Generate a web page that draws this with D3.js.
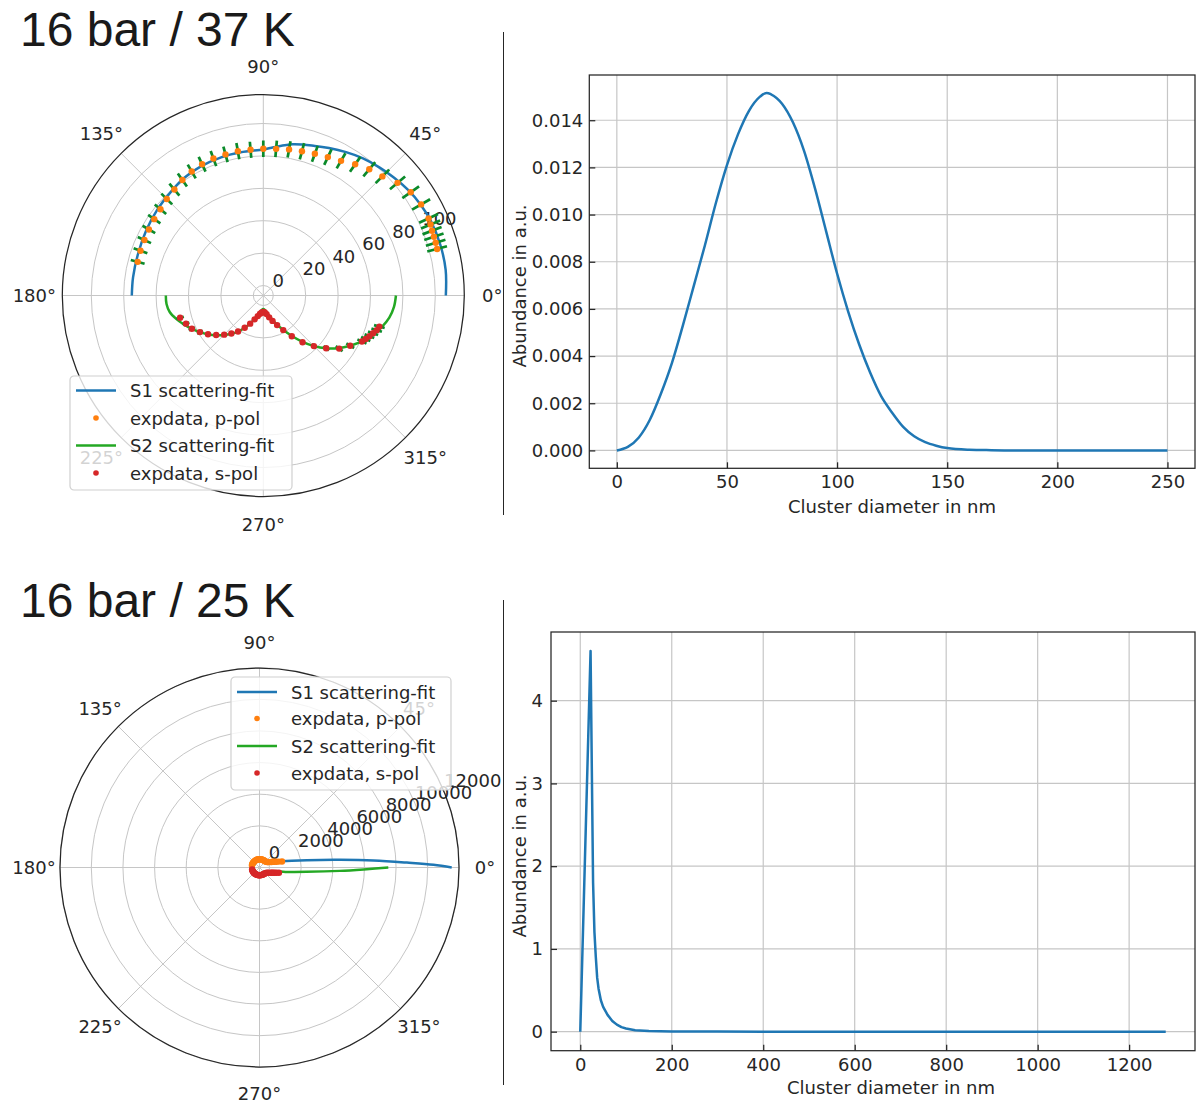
<!DOCTYPE html>
<html><head><meta charset="utf-8">
<script src="https://cdn.jsdelivr.net/npm/d3@7"></script>
<style>body{margin:0;background:#fff}</style>
</head><body><svg id="c" width="1198" height="1101" style="font-family:'DejaVu Sans',sans-serif"></svg>
<script>
// ---------------- DATA ----------------
const titles = ["16 bar / 37 K", "16 bar / 25 K"];
const legendLabels = ["S1 scattering-fit", "expdata, p-pol", "S2 scattering-fit", "expdata, s-pol"];
const angleTicks = [0, 45, 90, 135, 180, 225, 270, 315];

// top polar (37 K)
const rTicksTop = [0, 20, 40, 60, 80, 100];
const s1AngTop = [0, 8, 16, 24, 30, 36, 42, 48, 54, 60, 66, 71, 79, 86, 90, 99, 107, 116, 124, 132, 141, 151, 162, 172, 180];
const s1ValTop = [106.5, 107.5, 107.5, 107, 106, 104.5, 102.5, 100.5, 98.5, 96, 93.5, 91.5, 88.9, 85.5, 84, 83.3, 83, 82.3, 81.3, 79.5, 78, 76.5, 75.3, 75, 75];
const s2AngTop = [180, 185, 190, 195, 200, 205, 210, 215, 220, 225, 230, 235, 240, 245, 250, 255, 260, 265, 270, 275, 280, 285, 290, 295, 300, 305, 310, 315, 320, 325, 330, 335, 340, 345, 350, 355, 360];
const s2ValTop = [54, 53.8, 52.5, 49.5, 46, 42.5, 39, 35.5, 32, 28.3, 24.7, 21, 16.8, 12.8, 9.2, 6.3, 4, 2.6, 2.2, 2.6, 4, 6.3, 9.4, 13.5, 18.3, 24.2, 31, 38, 44.5, 50.5, 55.8, 61, 65.5, 69.5, 72.8, 74.8, 75.7];
const pAng = [15, 17, 19, 21, 23, 25, 30, 35, 40, 45, 50, 55, 60, 65, 70, 75, 80, 85, 90, 95, 100, 105, 110, 115, 120, 125, 130, 135, 140, 145, 150, 155, 160, 165];
const pValTop = [104.9, 105.1, 105.2, 105.4, 106, 106.4, 106.3, 104.9, 102, 97.8, 95.6, 92.7, 89.8, 88.1, 86.9, 86, 85.4, 84.7, 84.4, 84.1, 84.3, 84, 83.8, 83.2, 82.2, 80.9, 79.2, 78.1, 76.7, 76, 75.4, 74.8, 74.5, 74.1];
const pErrTop = [6.3, 6.3, 6.3, 6.3, 6.4, 6.4, 6.4, 6.3, 6.1, 5.9, 5.7, 5.6, 5.4, 5.3, 5.2, 5.2, 5.1, 5.1, 5.1, 5.0, 5.1, 5.0, 5.0, 5.0, 4.9, 4.9, 4.8, 4.7, 4.6, 4.6, 4.5, 4.5, 4.5, 4.4];
const sAng = [345, 343, 341, 339, 337, 335, 330, 325, 320, 315, 310, 305, 300, 295, 290, 285, 280, 275, 270, 265, 260, 255, 250, 245, 240, 235, 230, 225, 220, 215, 210, 205, 200, 195];
const sValTop = [68, 67, 65.5, 64, 62.5, 61, 55.8, 51, 44.5, 38, 31.5, 24.5, 18.5, 14, 10.5, 7.8, 5.5, 4.4, 4, 4.4, 5.3, 7, 9.5, 13, 16.8, 21, 24.5, 28, 31.8, 35.5, 39, 42.5, 44.6, 47];
const sErrTop = [3.4, 3.4, 3.3, 3.2, 3.1, 3.1, 2.8, 2.6, 2.2, 1.9, 1.6, 1.2, 0.9, 0.7, 0.5, 0.4, 0.3, 0.2, 0.2, 0.2, 0.3, 0.4, 0.5, 0.7, 0.8, 1.1, 1.2, 1.4, 1.6, 1.8, 2.0, 2.1, 2.2, 2.4];

// bottom polar (25 K)
const rTicksBot = [0, 2000, 4000, 6000, 8000, 10000, 12000];
const s1AngBot = [0, 0.9, 1.9, 3.5, 5.4, 8.8, 12, 15.7, 20, 25, 30, 40, 60, 90, 120, 150, 180];
const s1ValBot = [11520, 10370, 8690, 6590, 4490, 2400, 1450, 840, 420, 190, 30, -70, -100, -110, -110, -120, -120];
const s2AngBot = [360, 359.1, 357.6, 354.7, 351, 348.6, 345, 340, 335, 330, 320, 300, 270, 240, 210, 180];
const s2ValBot = [7510, 6140, 4460, 2360, 1150, 645, 420, 200, 90, 20, -90, -130, -140, -140, -130, -120];
const pValBot = [840, 640, 490, 380, 290, 200, 40, -40, -80, -95, -100, -105, -105, -108, -110, -110, -108, -105, -105, -108, -110, -112, -115, -118, -120, -122, -125, -128, -130, -132, -134, -136, -138, -140];
const pErrBot = [50, 45, 40, 40, 35, 35, 30, 30, 30, 30, 30, 30, 30, 30, 30, 30, 30, 30, 30, 30, 30, 30, 30, 30, 30, 30, 30, 30, 30, 30, 30, 30, 30, 30];
const sValBot = [640, 490, 380, 290, 220, 160, 30, -50, -95, -120, -130, -135, -140, -140, -142, -144, -145, -146, -146, -146, -147, -147, -148, -148, -148, -149, -149, -150, -150, -150, -150, -150, -150, -150];
const sErrBot = [45, 40, 35, 35, 30, 30, 30, 30, 30, 30, 30, 30, 30, 30, 30, 30, 30, 30, 30, 30, 30, 30, 30, 30, 30, 30, 30, 30, 30, 30, 30, 30, 30, 30];

// size distributions
const diamTop = [0, 5, 10, 15, 20, 25, 30, 35, 40, 45, 50, 55, 60, 65, 68, 70, 75, 80, 85, 90, 95, 100, 105, 110, 115, 120, 125, 130, 135, 140, 145, 150, 160, 170, 180, 200, 225, 250];
const abundTop = [0, 0.00015, 0.00055, 0.0013, 0.0024, 0.0037, 0.0053, 0.0070, 0.0087, 0.0105, 0.0121, 0.0134, 0.0144, 0.0150, 0.01516, 0.0151, 0.0147, 0.0139, 0.0127, 0.0111, 0.0093, 0.0075, 0.0059, 0.0045, 0.0033, 0.0023, 0.0016, 0.0010, 0.0006, 0.00035, 0.0002, 0.0001, 0.00003, 0.00001, 0, 0, 0, 0];
const xTicksTop = [0, 50, 100, 150, 200, 250];
const yTicksTop = [0, 0.002, 0.004, 0.006, 0.008, 0.010, 0.012, 0.014];
const diamBot = [0, 22.5, 25, 28, 31, 34, 37, 40, 45, 50, 60, 70, 80, 90, 100, 120, 150, 200, 300, 400, 600, 800, 1000, 1280];
const abundBot = [0, 4.6, 3.3, 1.8, 1.2, 0.9, 0.65, 0.52, 0.38, 0.3, 0.2, 0.13, 0.085, 0.055, 0.038, 0.018, 0.008, 0.003, 0.001, 0, 0, 0, 0, 0];
const xTicksBot = [0, 200, 400, 600, 800, 1000, 1200];
const yTicksBot = [0, 1, 2, 3, 4];
const xLabel = "Cluster diameter in nm";
const yLabel = "Abundance in a.u.";

// ---------------- STYLE ----------------
const C = {blue: "#1f77b4", orange: "#ff7f0e", green: "#24a824", red: "#d62728", err: "#0a8a2a",
  grid: "#c6c6c6", dark: "#262626"};
const svg = d3.select("#c");

function zip(a, b) { return a.map((d, i) => [d, b[i]]); }

function polarChart(o) {
  const g = svg.append("g").attr("transform", `translate(${o.cx},${o.cy})`);
  const r = d3.scaleLinear().domain(o.rDomain).range([0, o.R]);
  const a = d3.scaleLinear().domain([0, 360]).range([Math.PI / 2, Math.PI / 2 - 2 * Math.PI]);
  const px = (deg, v) => [r(v) * Math.sin(a(deg)), -r(v) * Math.cos(a(deg))];

  g.selectAll("circle.grid").data(o.rTicks).join("circle").attr("class", "grid")
    .attr("r", d => r(d)).attr("fill", "none").attr("stroke", C.grid).attr("stroke-width", 1);
  g.selectAll("line.spoke").data(angleTicks).join("line").attr("class", "spoke")
    .attr("x1", 0).attr("y1", 0)
    .attr("x2", d => px(d, o.rDomain[1])[0]).attr("y2", d => px(d, o.rDomain[1])[1])
    .attr("stroke", C.grid).attr("stroke-width", 1);
  g.append("circle").attr("r", o.R).attr("fill", "none").attr("stroke", C.dark).attr("stroke-width", 1.25);

  g.selectAll("text.alab").data(angleTicks).join("text").attr("class", "alab")
    .attr("x", d => (o.R + o.lab) * Math.sin(a(d))).attr("y", d => -(o.R + o.lab) * Math.cos(a(d)))
    .attr("text-anchor", "middle").attr("dominant-baseline", "central")
    .attr("font-size", 18).attr("fill", C.dark).text(d => d + "°");
  g.selectAll("text.rlab").data(o.rTicks).join("text").attr("class", "rlab")
    .attr("x", d => px(22.5, d)[0]).attr("y", d => px(22.5, d)[1] - 4.3)
    .attr("font-size", 18).attr("fill", C.dark).text(d => d);

  const line = d3.lineRadial().angle(d => a(d[0])).radius(d => r(d[1])).curve(d3.curveCatmullRom.alpha(0.5));
  function errs(ang, val, err) {
    const data = zip(ang, val).map((d, i) => [d[0], d[1], err[i]]);
    g.append("g").selectAll("line").data(data).join("line")
      .attr("x1", d => px(d[0], d[1] - d[2])[0]).attr("y1", d => px(d[0], d[1] - d[2])[1])
      .attr("x2", d => px(d[0], d[1] + d[2])[0]).attr("y2", d => px(d[0], d[1] + d[2])[1])
      .attr("stroke", C.err).attr("stroke-width", 2.7);
  }
  function dots(ang, val, col) {
    g.append("g").selectAll("circle").data(zip(ang, val)).join("circle")
      .attr("cx", d => px(d[0], d[1])[0]).attr("cy", d => px(d[0], d[1])[1])
      .attr("r", 3.2).attr("fill", col);
  }
  g.append("path").datum(zip(o.s1Ang, o.s1Val)).attr("d", line).attr("fill", "none").attr("stroke", C.blue).attr("stroke-width", 2.5);
  errs(pAng, o.pVal, o.pErr); dots(pAng, o.pVal, C.orange);
  g.append("path").datum(zip(o.s2Ang, o.s2Val)).attr("d", line).attr("fill", "none").attr("stroke", C.green).attr("stroke-width", 2.5);
  errs(sAng, o.sVal, o.sErr); dots(sAng, o.sVal, C.red);

  // legend (coordinates relative to the legend box)
  const L = o.legend;
  const lg = svg.append("g").attr("transform", `translate(${L.x},${L.y})`);
  lg.append("rect").attr("width", L.w).attr("height", L.h).attr("rx", 4)
    .attr("fill", "#fff").attr("fill-opacity", 0.8).attr("stroke", "#d0d0d0").attr("stroke-width", 1.2);
  const kinds = [["line", C.blue], ["dot", C.orange], ["line", C.green], ["dot", C.red]];
  kinds.forEach((k, i) => {
    const yy = L.rows[i];
    if (k[0] === "line") lg.append("line").attr("x1", 6).attr("x2", 46).attr("y1", yy).attr("y2", yy).attr("stroke", k[1]).attr("stroke-width", 2.5);
    else lg.append("circle").attr("cx", 26).attr("cy", yy).attr("r", 2.8).attr("fill", k[1]);
    lg.append("text").attr("x", 60).attr("y", yy).attr("dominant-baseline", "central")
      .attr("font-size", 18).attr("fill", C.dark).text(legendLabels[i]);
  });
}

function lineChart(o) {
  const x = d3.scaleLinear().domain(o.xDomain).range([o.x0, o.x1]);
  const y = d3.scaleLinear().domain(o.yDomain).range([o.y1, o.y0]);
  const g = svg.append("g");
  g.selectAll("line.gx").data(o.xTicks).join("line").attr("x1", d => x(d)).attr("x2", d => x(d))
    .attr("y1", o.y0).attr("y2", o.y1).attr("stroke", C.grid).attr("stroke-width", 1.2);
  g.selectAll("line.gy").data(o.yTicks).join("line").attr("y1", d => y(d)).attr("y2", d => y(d))
    .attr("x1", o.x0).attr("x2", o.x1).attr("stroke", C.grid).attr("stroke-width", 1.2);
  const ax = g.append("g").attr("transform", `translate(0,${o.y1})`)
    .call(d3.axisBottom(x).tickValues(o.xTicks).tickSize(-6).tickPadding(o.padX).tickFormat(d => d));
  const ay = g.append("g").attr("transform", `translate(${o.x0},0)`)
    .call(d3.axisLeft(y).tickValues(o.yTicks).tickSize(-6).tickPadding(o.padY).tickFormat(o.yFmt));
  [ax, ay].forEach(s => {
    s.attr("font-family", null).attr("font-size", null);
    s.select(".domain").remove();
    s.selectAll(".tick line").attr("stroke", C.dark).attr("stroke-width", 1.25);
    s.selectAll(".tick text").attr("fill", C.dark).attr("font-size", 18);
  });
  const ln = d3.line().x(d => x(d[0])).y(d => y(d[1])).curve(o.curve);
  g.append("path").datum(zip(o.xs, o.ys)).attr("d", ln).attr("fill", "none").attr("stroke", C.blue).attr("stroke-width", 2.5).attr("stroke-linejoin", "round");
  g.append("rect").attr("x", o.x0).attr("y", o.y0).attr("width", o.x1 - o.x0).attr("height", o.y1 - o.y0)
    .attr("fill", "none").attr("stroke", C.dark).attr("stroke-width", 1.25);
  g.append("text").attr("x", o.xlx).attr("y", o.xly).attr("text-anchor", "middle").attr("font-size", 18).attr("fill", C.dark).text(xLabel);
  g.append("text").attr("transform", `translate(${o.ylx},${o.yly}) rotate(-90)`).attr("text-anchor", "middle")
    .attr("dominant-baseline", "central").attr("font-size", 18).attr("fill", C.dark).text(yLabel);
}

// titles
svg.append("text").attr("x", 20).attr("y", 46).attr("font-size", 48).style("font-family", "'Liberation Sans', Arial, sans-serif").attr("fill", "#1a1a1a").text(titles[0]);
svg.append("text").attr("x", 20).attr("y", 617).attr("font-size", 48).style("font-family", "'Liberation Sans', Arial, sans-serif").attr("fill", "#1a1a1a").text(titles[1]);
// dividers
svg.append("line").attr("x1", 503.5).attr("x2", 503.5).attr("y1", 32).attr("y2", 515).attr("stroke", C.dark).attr("stroke-width", 1);
svg.append("line").attr("x1", 503.5).attr("x2", 503.5).attr("y1", 600).attr("y2", 1085).attr("stroke", C.dark).attr("stroke-width", 1);

polarChart({cx: 263.3, cy: 295.5, R: 201, lab: 28, rDomain: [-6.17, 117.9], rTicks: rTicksTop,
  s1Ang: s1AngTop, s1Val: s1ValTop, s2Ang: s2AngTop, s2Val: s2ValTop,
  pVal: pValTop, pErr: pErrTop, sVal: sValTop, sErr: sErrTop,
  legend: {x: 70, y: 376, w: 222, h: 114, rows: [14.5, 42, 69.5, 97]}});

polarChart({cx: 259.5, cy: 867.5, R: 199.5, lab: 26, rDomain: [-634, 11980], rTicks: rTicksBot,
  s1Ang: s1AngBot, s1Val: s1ValBot, s2Ang: s2AngBot, s2Val: s2ValBot,
  pVal: pValBot, pErr: pErrBot, sVal: sValBot, sErr: sErrBot,
  legend: {x: 231, y: 677, w: 220, h: 113, rows: [15, 41.5, 69, 96]}});

lineChart({x0: 589.3, x1: 1195, y0: 75, y1: 468.3, xDomain: [-12.5, 262.5], yDomain: [-0.000758, 0.015918],
  xTicks: xTicksTop, yTicks: yTicksTop, xs: diamTop, ys: abundTop, curve: d3.curveMonotoneX,
  yFmt: d3.format(".3f"), padX: 7, padY: 6, xlx: 892, xly: 513, ylx: 519, yly: 286});

lineChart({x0: 551, x1: 1195, y0: 632, y1: 1050.7, xDomain: [-64, 1344], yDomain: [-0.23, 4.83],
  xTicks: xTicksBot, yTicks: yTicksBot, xs: diamBot, ys: abundBot, curve: d3.curveLinear,
  yFmt: d => d, padX: 7.5, padY: 8, xlx: 891, xly: 1094, ylx: 519, yly: 856});
</script>
</body></html>
